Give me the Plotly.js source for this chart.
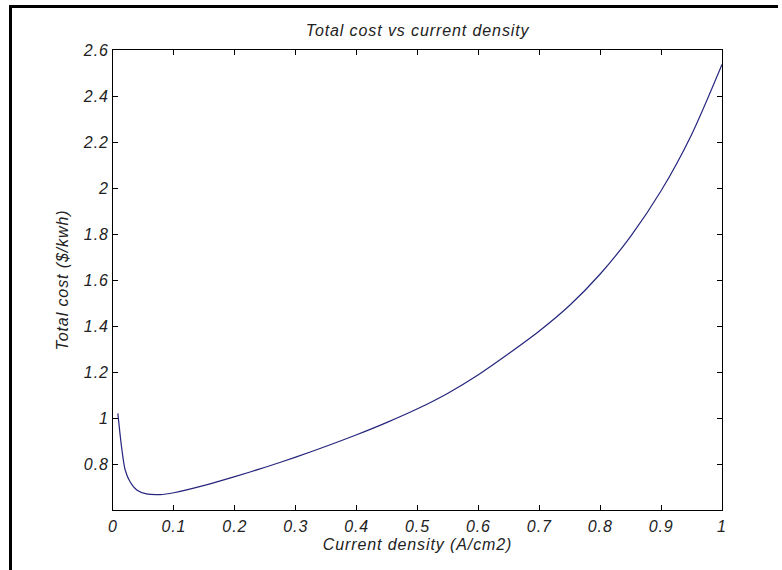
<!DOCTYPE html>
<html>
<head>
<meta charset="utf-8">
<script src="https://cdn.plot.ly/plotly-3.0.1.min.js"></script>
<style>
  html, body { margin: 0; padding: 0; background: #ffffff; }
  #chart { width: 782px; height: 570px; position: relative; }
  #chart text { letter-spacing: 0.9px; }
  #frame { position: absolute; left: 9px; top: 5px; width: 766px; height: 580px;
           border-left: 3px solid #000; border-top: 3px solid #000; pointer-events: none; }
</style>
</head>
<body>
<div id="chart"></div>
<div id="frame"></div>
<script>
// Current density (A/cm2)
const currentDensity = [0.008, 0.014, 0.02, 0.028, 0.039, 0.055, 0.077, 0.1, 0.15,
  0.2, 0.25, 0.3, 0.35, 0.4, 0.45, 0.5, 0.55, 0.6, 0.65,
  0.7, 0.75, 0.8, 0.85, 0.9, 0.95, 1.0];
// Total cost ($/kwh)
const totalCost = [1.02, 0.875, 0.774, 0.723, 0.687, 0.670, 0.667, 0.675, 0.707,
  0.745, 0.786, 0.830, 0.877, 0.927, 0.981, 1.040, 1.108, 1.188, 1.280,
  1.378, 1.490, 1.626, 1.790, 1.988, 2.232, 2.537];

const xTicks = [0, 0.1, 0.2, 0.3, 0.4, 0.5, 0.6, 0.7, 0.8, 0.9, 1];
const xTickLabels = ['0', '0.1', '0.2', '0.3', '0.4', '0.5', '0.6', '0.7', '0.8', '0.9', '1'];
const yTicks = [0.8, 1, 1.2, 1.4, 1.6, 1.8, 2, 2.2, 2.4, 2.6];
const yTickLabels = ['0.8', '1', '1.2', '1.4', '1.6', '1.8', '2', '2.2', '2.4', '2.6'];

const fontFam = '"Liberation Sans", Arial, sans-serif';
const baseFont = { family: fontFam, size: 16, color: '#222222', style: 'italic' };

const trace = {
  x: currentDensity,
  y: totalCost,
  type: 'scatter',
  mode: 'lines',
  line: { color: '#25257e', width: 1.2, shape: 'spline', smoothing: 0.8 },
  hoverinfo: 'skip'
};

const axisCommon = {
  showline: true, linecolor: '#000000', linewidth: 1, mirror: 'ticks',
  ticks: 'inside', ticklen: 5, tickwidth: 1, tickcolor: '#000000',
  showgrid: false, zeroline: false, tickfont: baseFont
};

const layout = {
  width: 782, height: 570,
  margin: { l: 113, r: 60, t: 50, b: 60 },
  paper_bgcolor: '#ffffff', plot_bgcolor: '#ffffff',
  showlegend: false,
  font: baseFont,
  title: { text: 'Total cost vs current density', font: baseFont,
           x: 0.534, xref: 'container', xanchor: 'center',
           y: 1 - 30 / 570, yref: 'container', yanchor: 'middle' },
  xaxis: Object.assign({}, axisCommon, {
    range: [0, 1], tickvals: xTicks, ticktext: xTickLabels,
    ticklabelstandoff: 2,
    title: { text: 'Current density (A/cm2)', font: baseFont, standoff: 4 }
  }),
  yaxis: Object.assign({}, axisCommon, {
    range: [0.6, 2.6], tickvals: yTicks, ticktext: yTickLabels,
    title: { text: 'Total cost ($/kwh)', font: baseFont, standoff: 12 }
  })
};

Plotly.newPlot('chart', [trace], layout, { displayModeBar: false, staticPlot: true });
</script>
</body>
</html>
